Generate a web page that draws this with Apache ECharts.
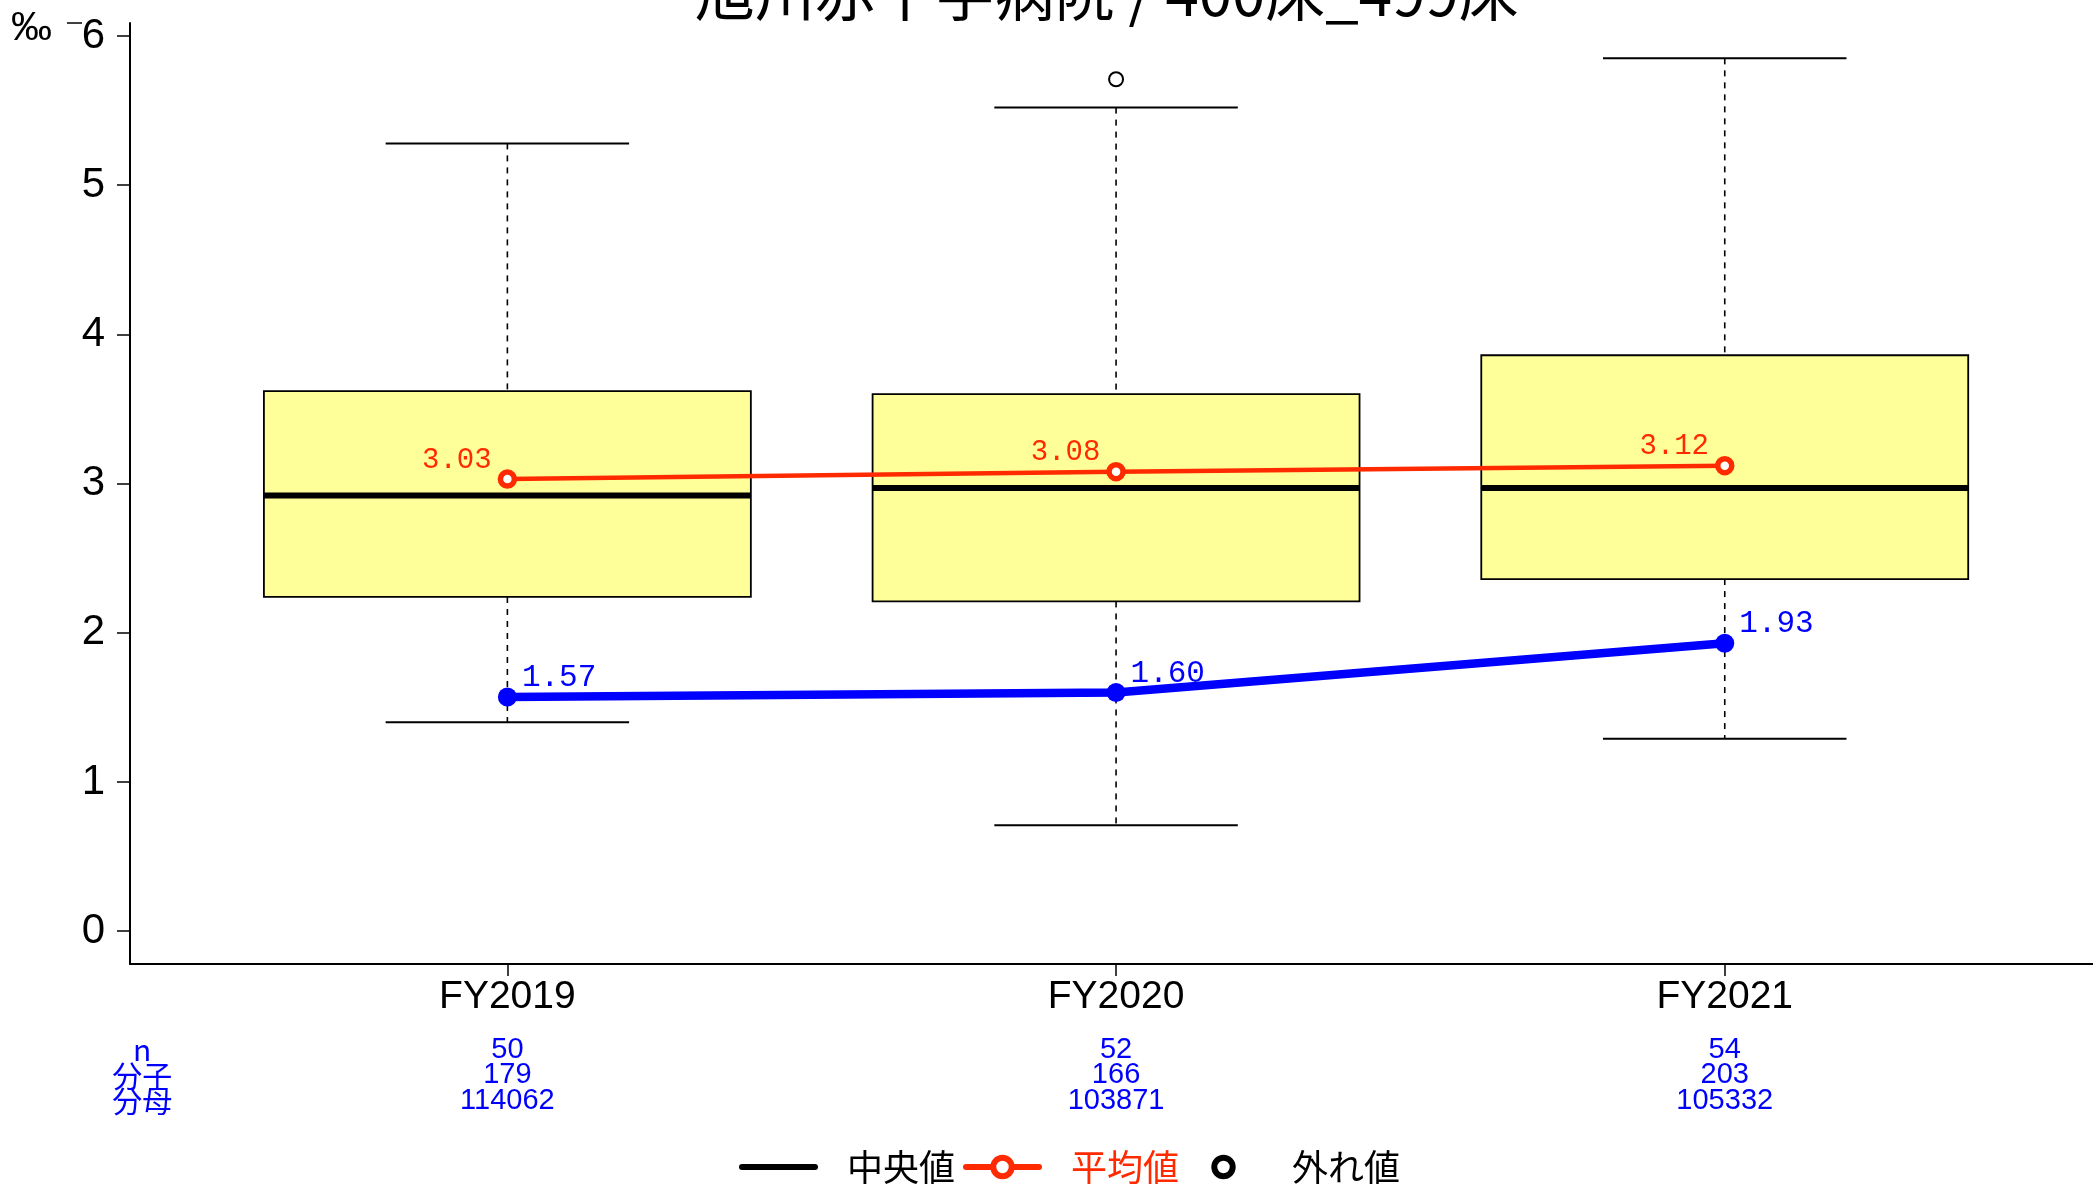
<!DOCTYPE html>
<html>
<head>
<meta charset="utf-8">
<script src="https://cdn.jsdelivr.net/npm/echarts@6/dist/echarts.min.js"></script>
<style>
html, body { margin: 0; padding: 0; background: #fff; }
#main { width: 2093px; height: 1184px; }
</style>
</head>
<body>
<div id="main"></div>
<script>
// 年度
var categories = ["FY2019", "FY2020", "FY2021"];
// 箱ひげ図
var whiskerLow = [1.40, 0.71, 1.29];
var q1 = [2.24, 2.21, 2.36];
var median = [2.92, 2.97, 2.97];
var q3 = [3.62, 3.60, 3.86];
var whiskerHigh = [5.28, 5.52, 5.85];
// 外れ値 [年度番号, 値]
var outliers = [[2, 5.71]];
// 平均値 / 全体値
var meanValues = [3.03, 3.08, 3.12];
var overallValues = [1.57, 1.60, 1.93];
// 表
var rowHeaders = ["n", "分子", "分母"];
var nCounts = [50, 52, 54];
var numerators = [179, 166, 203];
var denominators = [114062, 103871, 105332];
var yTicks = [0, 1, 2, 3, 4, 5, 6];

var titleText = "旭川赤十字病院 / 400床_499床";
var RED = "#ff2a00";
var BLUE = "#0000ff";
var CJK = "'Noto Sans CJK JP', 'Liberation Sans', sans-serif";

function renderBox(params, api) {
  var x = api.value(0);
  var low = api.coord([x, api.value(1)]);
  var b1 = api.coord([x, api.value(2)]);
  var med = api.coord([x, api.value(3)]);
  var b3 = api.coord([x, api.value(4)]);
  var high = api.coord([x, api.value(5)]);
  var boxW = api.size([0.8, 0])[0];
  var capW = api.size([0.4, 0])[0];
  var cx = low[0];
  var dash = { stroke: "#000", lineWidth: 1.6, lineDash: [6, 6] };
  var solid = { stroke: "#000", lineWidth: 2 };
  return {
    type: "group",
    children: [
      { type: "line", shape: { x1: cx, y1: high[1], x2: cx, y2: b3[1] }, style: dash },
      { type: "line", shape: { x1: cx, y1: b1[1], x2: cx, y2: low[1] }, style: dash },
      { type: "line", shape: { x1: cx - capW / 2, y1: high[1], x2: cx + capW / 2, y2: high[1] }, style: solid },
      { type: "line", shape: { x1: cx - capW / 2, y1: low[1], x2: cx + capW / 2, y2: low[1] }, style: solid },
      {
        type: "rect",
        shape: { x: cx - boxW / 2, y: b3[1], width: boxW, height: b1[1] - b3[1] },
        style: { fill: "#ffff99", stroke: "#000", lineWidth: 1.8 }
      },
      {
        type: "line",
        shape: { x1: cx - boxW / 2, y1: med[1], x2: cx + boxW / 2, y2: med[1] },
        style: { stroke: "#000", lineWidth: 6 }
      }
    ]
  };
}

var boxData = categories.map(function (c, i) {
  return [i + 1, whiskerLow[i], q1[i], median[i], q3[i], whiskerHigh[i]];
});
var meanData = meanValues.map(function (v, i) { return [i + 1, v]; });
var overallData = overallValues.map(function (v, i) { return [i + 1, v]; });

var headerPos = 0.40;
function xLabel(value) {
  if (Math.abs(value - headerPos) < 0.01) {
    return "{cat| }\n{h|" + rowHeaders[0] + "}\n{h|" + rowHeaders[1] + "}\n{h|" + rowHeaders[2] + "}";
  }
  var i = Math.round(value) - 1;
  return "{cat|" + categories[i] + "}\n{v|" + nCounts[i] + "}\n{v|" + numerators[i] + "}\n{v|" + denominators[i] + "}";
}

var option = {
  animation: false,
  backgroundColor: "#fff",
  grid: { left: 130, right: 0, top: 23, bottom: 220, containLabel: false },
  xAxis: {
    type: "value",
    min: 0.38,
    max: 3.605,
    splitLine: { show: false },
    axisLine: { show: true, onZero: false, lineStyle: { color: "#000", width: 2 } },
    axisTick: { show: true, length: 12, customValues: [1, 2, 3], lineStyle: { color: "#000", width: 1.5 } },
    axisLabel: {
      customValues: [headerPos, 1, 2, 3],
      margin: 32,
      formatter: xLabel,
      rich: {
        cat: {
          fontSize: 39,
          lineHeight: 41,
          padding: [0, 0, 38, 0],
          color: "#000",
          fontFamily: "'Liberation Sans Narrow', 'Liberation Sans', sans-serif"
        },
        v: { fontSize: 29, lineHeight: 25.5, color: BLUE, fontFamily: "'Liberation Sans', sans-serif" },
        h: { fontSize: 30, lineHeight: 25.5, color: BLUE, fontFamily: CJK }
      }
    }
  },
  yAxis: {
    type: "value",
    min: -0.22,
    max: 6.087,
    splitLine: { show: false },
    axisLine: { show: true, lineStyle: { color: "#000", width: 2 } },
    axisTick: { show: true, length: 13, customValues: yTicks, lineStyle: { color: "#000", width: 1.5 } },
    axisLabel: {
      customValues: yTicks,
      margin: 25,
      padding: [8, 0, 0, 0],
      fontSize: 42,
      color: "#000",
      fontFamily: "'Liberation Sans', sans-serif"
    }
  },
  legend: {
    left: 734,
    top: 1144,
    itemWidth: 73,
    itemHeight: 23,
    itemGap: 8,
    textStyle: { fontSize: 36, color: "#000", fontFamily: CJK, padding: [0, 0, 0, 27] },
    data: [
      {
        name: "中央値",
        itemStyle: { opacity: 0 },
        lineStyle: { color: "#000", width: 6, cap: "round" }
      },
      {
        name: "平均値",
        textStyle: { color: RED },
        itemStyle: { color: "#fff", borderColor: RED, borderWidth: 6 },
        lineStyle: { color: RED, width: 6, cap: "round" }
      },
      {
        name: "外れ値",
        itemStyle: { color: "#fff", borderColor: "#000", borderWidth: 6 },
        lineStyle: { opacity: 0 }
      }
    ]
  },
  graphic: [
    {
      type: "text",
      left: 1115 - 420,
      top: -37,
      style: { text: titleText, fontSize: 60, fill: "#000", fontFamily: CJK }
    },
    {
      type: "text",
      left: 11,
      top: 8,
      style: { text: "‰", fontSize: 41, fill: "#000", fontFamily: "'Liberation Sans', sans-serif" }
    },
    {
      type: "line",
      shape: { x1: 67, y1: 23, x2: 82, y2: 23 },
      style: { stroke: "#000", lineWidth: 1.5 }
    }
  ],
  series: [
    {
      name: "箱ひげ",
      type: "custom",
      renderItem: renderBox,
      encode: { x: 0, y: [1, 2, 3, 4, 5] },
      data: boxData,
      z: 1
    },
    {
      name: "中央値",
      type: "line",
      data: [],
      symbol: "none",
      lineStyle: { color: "#000", width: 6 },
      itemStyle: { color: "#000" }
    },
    {
      name: "平均値",
      type: "line",
      data: meanData,
      z: 3,
      symbol: "circle",
      symbolSize: 14,
      lineStyle: { color: RED, width: 4.5 },
      itemStyle: { color: "#fff", borderColor: RED, borderWidth: 5.5 },
      label: {
        show: true,
        position: "left",
        distance: 6,
        offset: [0, -19],
        fontSize: 29,
        color: RED,
        fontFamily: "'Liberation Mono', monospace",
        formatter: function (p) { return p.value[1].toFixed(2); }
      }
    },
    {
      name: "全体",
      type: "line",
      data: overallData,
      z: 4,
      symbol: "circle",
      symbolSize: 19,
      lineStyle: { color: BLUE, width: 8.5 },
      itemStyle: { color: BLUE },
      label: {
        show: true,
        position: "right",
        distance: 5,
        offset: [0, -19],
        fontSize: 31,
        color: BLUE,
        fontFamily: "'Liberation Mono', monospace",
        formatter: function (p) { return p.value[1].toFixed(2); }
      }
    },
    {
      name: "外れ値",
      type: "line",
      data: outliers,
      z: 3,
      symbol: "circle",
      symbolSize: 14,
      lineStyle: { width: 0 },
      itemStyle: { color: "#fff", borderColor: "#000", borderWidth: 2 }
    }
  ]
};

var chart = echarts.init(document.getElementById("main"));
chart.setOption(option);
</script>
</body>
</html>
